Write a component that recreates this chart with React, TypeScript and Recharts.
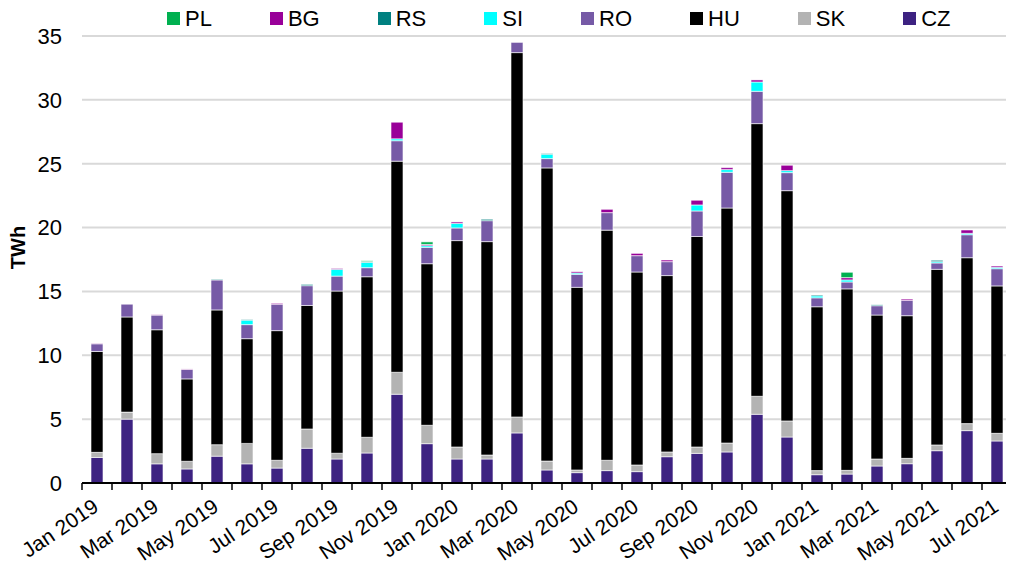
import React from 'react';
import { BarChart, Bar, XAxis, YAxis, CartesianGrid, Legend } from 'recharts';

const months = [
  'Jan 2019', 'Feb 2019', 'Mar 2019', 'Apr 2019', 'May 2019', 'Jun 2019', 'Jul 2019', 'Aug 2019',
  'Sep 2019', 'Oct 2019', 'Nov 2019', 'Dec 2019', 'Jan 2020', 'Feb 2020', 'Mar 2020', 'Apr 2020',
  'May 2020', 'Jun 2020', 'Jul 2020', 'Aug 2020', 'Sep 2020', 'Oct 2020', 'Nov 2020', 'Dec 2020',
  'Jan 2021', 'Feb 2021', 'Mar 2021', 'Apr 2021', 'May 2021', 'Jun 2021', 'Jul 2021',
];

const CZ = [2.0, 5.0, 1.5, 1.1, 2.1, 1.5, 1.17, 2.72, 1.88, 2.35, 6.95, 3.08, 1.88, 1.88, 3.92, 1.02, 0.81, 0.97, 0.89, 2.06, 2.32, 2.43, 5.38, 3.6, 0.65, 0.7, 1.33, 1.51, 2.53, 4.1, 3.29];
const SK = [0.4, 0.55, 0.8, 0.6, 0.9, 1.6, 0.61, 1.51, 0.45, 1.23, 1.72, 1.44, 0.94, 0.31, 1.25, 0.7, 0.21, 0.81, 0.52, 0.37, 0.5, 0.7, 1.41, 1.26, 0.32, 0.29, 0.55, 0.42, 0.45, 0.55, 0.6];
const HU = [7.9, 7.45, 9.7, 6.45, 10.55, 8.2, 10.15, 9.67, 12.7, 12.57, 16.53, 12.65, 16.16, 16.71, 28.53, 22.95, 14.3, 18.02, 15.11, 13.81, 16.48, 18.4, 21.35, 18.03, 12.83, 14.21, 11.27, 11.17, 13.75, 12.99, 11.54];
const RO = [0.6, 1.0, 1.15, 0.75, 2.35, 1.1, 2.07, 1.55, 1.17, 0.71, 1.6, 1.28, 0.99, 1.64, 0.8, 0.73, 1.02, 1.37, 1.28, 1.09, 2.0, 2.8, 2.53, 1.41, 0.7, 0.54, 0.73, 1.2, 0.5, 1.8, 1.35];
const SI = [0, 0, 0, 0, 0, 0.35, 0, 0, 0.53, 0.42, 0.15, 0.13, 0.36, 0, 0, 0.34, 0.1, 0, 0, 0, 0.47, 0.21, 0.73, 0.16, 0.15, 0.16, 0, 0, 0.1, 0.11, 0.11];
const RS = [0.03, 0, 0, 0, 0.05, 0.05, 0, 0.1, 0, 0.05, 0, 0, 0, 0.11, 0, 0.06, 0, 0, 0, 0, 0, 0, 0, 0, 0.07, 0, 0.07, 0, 0.11, 0, 0];
const BG = [0.03, 0, 0.03, 0.03, 0, 0, 0.07, 0, 0.07, 0, 1.3, 0.1, 0.11, 0, 0, 0, 0.1, 0.26, 0.18, 0.13, 0.37, 0.15, 0.16, 0.42, 0, 0.18, 0, 0.1, 0, 0.26, 0.1];
const PL = [0, 0, 0, 0, 0, 0, 0, 0, 0, 0.07, 0, 0.2, 0, 0, 0, 0, 0, 0, 0, 0, 0, 0, 0, 0, 0, 0.42, 0, 0, 0, 0, 0];

const yTicks = [0, 5, 10, 15, 20, 25, 30, 35];

const series = [
  { key: 'CZ', values: CZ, color: '#3D2281' },
  { key: 'SK', values: SK, color: '#B3B3B3' },
  { key: 'HU', values: HU, color: '#000000' },
  { key: 'RO', values: RO, color: '#765AA6' },
  { key: 'SI', values: SI, color: '#00FFFF' },
  { key: 'RS', values: RS, color: '#008080' },
  { key: 'BG', values: BG, color: '#990099' },
  { key: 'PL', values: PL, color: '#00B050' },
];

const data = months.map((m, i) => {
  const row: Record<string, any> = { month: m };
  series.forEach((s) => {
    row[s.key] = s.values[i];
  });
  return row;
});

const FONT = '"Liberation Sans", Arial, sans-serif';
const W = 1006;
const H = 557;
const MARGIN = { top: 28, right: 2, left: 0, bottom: 0 };
const Y_W = 74;
const PLOT_W = W - MARGIN.left - MARGIN.right - Y_W;
const BAND = PLOT_W / months.length;

function XTick(props: any) {
  const { x, y, payload } = props;
  const i = payload.index;
  const tx = x + 3;
  const ty = y + 27;
  return (
    <g>
      <line x1={x - BAND / 2} x2={x - BAND / 2} y1={y} y2={y + 7} stroke="#000" strokeWidth={1.5} />
      {i === months.length - 1 && (
        <line x1={x + BAND / 2} x2={x + BAND / 2} y1={y} y2={y + 7} stroke="#000" strokeWidth={1.5} />
      )}
      {i % 2 === 0 && (
        <text
          x={tx}
          y={ty}
          textAnchor="end"
          fontSize={21}
          fontFamily={FONT}
          fill="#000"
          transform={`rotate(-34 ${tx} ${ty})`}
        >
          {payload.value}
        </text>
      )}
    </g>
  );
}

function LegendContent() {
  const items = [...series].reverse();
  return (
    <div
      style={{
        display: 'flex',
        alignItems: 'center',
        paddingLeft: 159,
        height: 21,
        fontFamily: FONT,
        fontSize: 22,
        lineHeight: '21px',
        color: '#000',
      }}
    >
      {items.map((s) => (
        <div key={s.key} style={{ display: 'flex', alignItems: 'center', marginRight: 58 }}>
          <span style={{ display: 'inline-block', width: 13, height: 13, background: s.color, marginRight: 5 }} />
          <span>{s.key}</span>
        </div>
      ))}
    </div>
  );
}

function YLabel(props: any) {
  const vb = props.viewBox || { x: 0, y: MARGIN.top, width: Y_W, height: 447 };
  const cx = vb.x + 10;
  const cy = vb.y + vb.height / 2 - 12;
  return (
    <text
      x={cx}
      y={cy}
      textAnchor="middle"
      dominantBaseline="central"
      fontSize={20}
      fontWeight="bold"
      fontFamily={FONT}
      fill="#000"
      transform={`rotate(-90 ${cx} ${cy})`}
    >
      TWh
    </text>
  );
}

export default function App() {
  return (
    <BarChart width={W} height={H} data={data} margin={MARGIN} barSize={12}>
      <CartesianGrid vertical={false} stroke="#D9D9D9" strokeWidth={2} />
      <XAxis
        dataKey="month"
        interval={0}
        tickSize={0}
        tickMargin={0}
        tickLine={false}
        axisLine={{ stroke: '#000', strokeWidth: 2 }}
        height={82}
        tick={(p: any) => <XTick {...p} />}
      />
      <YAxis
        domain={[0, 35]}
        ticks={yTicks}
        interval={0}
        axisLine={false}
        tickLine={false}
        tickSize={0}
        tickMargin={20}
        width={Y_W}
        tick={{ fill: '#000', fontSize: 22, fontFamily: FONT }}
        label={(p: any) => <YLabel {...p} />}
      />
      <Legend
        layout="horizontal"
        verticalAlign="middle"
        align="center"
        wrapperStyle={{ top: 0, left: 0, width: W, height: 21 }}
        content={() => <LegendContent />}
      />
      {series.map((s) => (
        <Bar
          key={s.key}
          dataKey={s.key}
          stackId="a"
          fill={s.color}
          stroke="#FFFFFF"
          strokeWidth={0.6}
          isAnimationActive={false}
        />
      ))}
    </BarChart>
  );
}
